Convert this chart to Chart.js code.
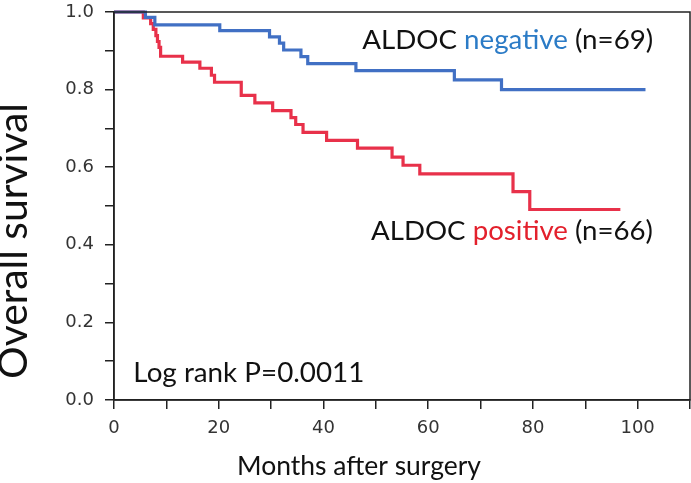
<!DOCTYPE html>
<html>
<head>
<meta charset="utf-8">
<script src="https://cdn.jsdelivr.net/npm/chart.js@4"></script>
<style>
  html, body { margin: 0; padding: 0; background: #fff; }
  #km { display: block; }
</style>
</head>
<body>
<canvas id="km" width="691" height="483"></canvas>
<script>
// Kaplan-Meier survival: months after surgery vs overall survival
const negMonths = [0, 6.0, 7.8, 20.2, 29.7, 31.6, 32.4, 35.7, 37.0, 46.2, 65.0, 74.0, 101.5];
const negSurvival = [1.0, 0.986, 0.967, 0.952, 0.936, 0.920, 0.902, 0.885, 0.867, 0.849, 0.825, 0.800, 0.800];

const posMonths = [0, 5.6, 7.0, 7.5, 8.0, 8.3, 8.6, 8.9, 13.1, 16.4, 18.6, 19.2, 24.3, 26.9, 30.3,
  33.8, 34.7, 36.1, 40.6, 46.5, 53.1, 55.2, 58.4, 76.2, 79.4, 96.7];
const posSurvival = [1.0, 0.985, 0.970, 0.955, 0.939, 0.924, 0.909, 0.886, 0.871, 0.855, 0.837, 0.819, 0.785,
  0.766, 0.746, 0.728, 0.710, 0.690, 0.669, 0.649, 0.626, 0.605, 0.583, 0.537, 0.491, 0.491];

const xTickStep = 10;
const yTickStep = 0.1;
const xTitle = 'Months after surgery';
const yTitle = 'Overall survival';
const negLabel = ['ALDOC ', 'negative', ' (n=69)'];
const posLabel = ['ALDOC ', 'positive', ' (n=66)'];
const pLabel = 'Log rank P=0.0011';

const BLUE = '#4170c4';
const RED = '#e8314a';
const TEXT_FONT = 'Lato, "Open Sans", sans-serif';

function toPoints(xs, ys) {
  return xs.map((x, i) => ({ x, y: ys[i] }));
}

// pick a font size so that the text spans the wanted width
function fitFont(ctx, text, width) {
  ctx.font = `100px ${TEXT_FONT}`;
  const size = (100 * width) / ctx.measureText(text).width;
  return `${size.toFixed(2)}px ${TEXT_FONT}`;
}

function drawParts(ctx, parts, colors, x, y, width) {
  ctx.font = fitFont(ctx, parts.join(''), width);
  ctx.textBaseline = 'alphabetic';
  ctx.textAlign = 'left';
  let cx = x;
  parts.forEach((part, i) => {
    ctx.fillStyle = colors[i];
    ctx.fillText(part, cx, y);
    cx += ctx.measureText(part).width;
  });
}

const annotations = {
  id: 'annotations',
  afterDraw(chart) {
    const { ctx, chartArea, scales } = chart;
    ctx.save();
    // frame round the plot
    ctx.strokeStyle = '#222';
    ctx.lineWidth = 1.5;
    ctx.strokeRect(chartArea.left, chartArea.top, chartArea.right - chartArea.left, chartArea.bottom - chartArea.top);

    const x = (v) => scales.x.getPixelForValue(v);
    const y = (v) => scales.y.getPixelForValue(v);

    drawParts(ctx, negLabel, ['#111', '#2b7bc6', '#111'], x(47.4), y(0.9045), 291);
    drawParts(ctx, posLabel, ['#111', '#e3202c', '#111'], x(49.1), y(0.413), 282);
    drawParts(ctx, [pLabel], ['#111'], x(3.7), y(0.047), 231);

    // axis titles
    ctx.fillStyle = '#111';
    ctx.font = fitFont(ctx, xTitle, 244);
    ctx.textAlign = 'left';
    ctx.fillText(xTitle, 237, 475);

    ctx.translate(27, 241);
    ctx.rotate(-Math.PI / 2);
    ctx.font = fitFont(ctx, yTitle, 276);
    ctx.textAlign = 'center';
    ctx.fillText(yTitle, 0, 0);
    ctx.restore();
  },
};

const gridStyle = {
  drawOnChartArea: false,
  drawTicks: true,
  tickLength: 9,
  color: '#222',
  lineWidth: 1.5,
};

new Chart(document.getElementById('km'), {
  type: 'line',
  data: {
    datasets: [
      {
        label: 'ALDOC negative',
        data: toPoints(negMonths, negSurvival),
        borderColor: BLUE,
        borderWidth: 3.2,
        stepped: true,
        pointRadius: 0,
        fill: false,
        clip: false,
      },
      {
        label: 'ALDOC positive',
        data: toPoints(posMonths, posSurvival),
        borderColor: RED,
        borderWidth: 3.2,
        stepped: true,
        pointRadius: 0,
        fill: false,
        clip: false,
      },
    ],
  },
  options: {
    responsive: false,
    animation: false,
    devicePixelRatio: 1,
    layout: { padding: { top: 12, right: 1, left: 0, bottom: 0 } },
    plugins: {
      legend: { display: false },
      tooltip: { enabled: false },
    },
    scales: {
      x: {
        type: 'linear',
        min: 0,
        max: 110,
        afterFit: (scale) => {
          scale.height = 83;
          scale.paddingLeft = 0;
          scale.paddingRight = 0;
        },
        grid: gridStyle,
        border: { color: '#222', width: 1.5 },
        ticks: {
          stepSize: xTickStep,
          autoSkip: false,
          maxRotation: 0,
          padding: 9,
          color: '#333',
          font: { family: '"DejaVu Sans"', size: 18 },
          callback: (v) => (Math.round(v) % 20 === 0 ? String(v) : ''),
        },
      },
      y: {
        type: 'linear',
        min: 0,
        max: 1,
        afterFit: (scale) => {
          scale.width = 114;
          scale.paddingTop = 0;
          scale.paddingBottom = 0;
        },
        grid: gridStyle,
        border: { color: '#222', width: 1.5 },
        ticks: {
          stepSize: yTickStep,
          autoSkip: false,
          padding: 11,
          color: '#333',
          font: { family: '"DejaVu Sans"', size: 18 },
          callback: (v) => (Math.round(v * 10) % 2 === 0 ? v.toFixed(1) : ''),
        },
      },
    },
  },
  plugins: [annotations],
});
</script>
</body>
</html>
